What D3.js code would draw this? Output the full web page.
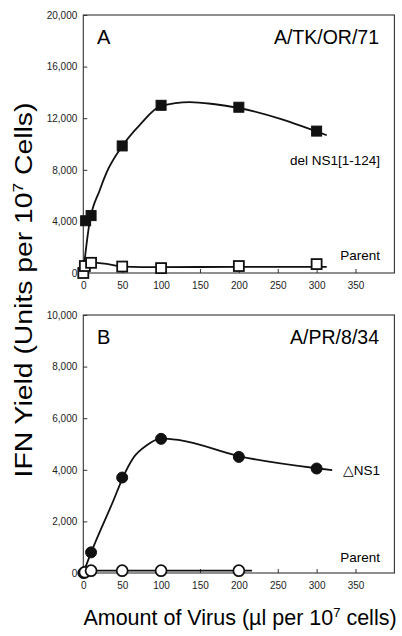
<!DOCTYPE html>
<html>
<head>
<meta charset="utf-8">
<script src="https://cdn.jsdelivr.net/npm/d3@7"></script>
<style>
  body { margin: 0; background: #fff; }
  svg { display: block; font-family: "Liberation Sans", Arial, sans-serif; }
</style>
</head>
<body>
<script>
// values
const xTicks = [0, 50, 100, 150, 200, 250, 300, 350]
const yTicksA = [0, 4000, 8000, 12000, 16000, 20000]
const yTicksB = [0, 2000, 4000, 6000, 8000, 10000]

// panel A, A/TK/OR/71
const delNS1X = [3, 10, 50, 100, 200, 300]
const delNS1Y = [4050, 4450, 9850, 13000, 12850, 11000]
const delNS1FitX = [0, 8, 21, 30, 50, 73, 100, 137, 167, 200, 313]
const delNS1FitY = [100, 3900, 6400, 7800, 9840, 11510, 12950, 13250, 13100, 12790, 10680]
const parentAX = [0, 2, 10, 50, 100, 200, 300]
const parentAY = [0, 540, 790, 500, 380, 540, 690]
const parentAFitX = [0, 2, 10, 30, 50, 100, 200, 313]
const parentAFitY = [0, 450, 800, 700, 500, 450, 480, 480]

// panel B, A/PR/8/34
const dNS1X = [0, 10, 50, 100, 200, 300]
const dNS1Y = [0, 800, 3700, 5200, 4500, 4050]
const dNS1FitX = [0, 10, 39, 51, 64, 82, 100, 124, 200, 300, 320]
const dNS1FitY = [0, 790, 2830, 3710, 4450, 4960, 5220, 5150, 4530, 4060, 3990]
const parentBX = [2, 10, 50, 100, 200]
const parentBY = [30, 90, 90, 90, 90]
const parentBFitX = [0, 10, 50, 100, 200, 217]
const parentBFitY = [30, 90, 90, 90, 90, 90]

const width = 402, height = 636
const svg = d3.select("body").append("svg")
  .attr("width", width).attr("height", height)

const x = d3.scaleLinear().domain([0, 400]).range([83.3, 394.4])
const zip = (xs, ys) => xs.map((v, i) => [v, ys[i]])

function panel(cfg) {
  const y = d3.scaleLinear().domain(cfg.yDomain).range(cfg.yRange)
  const g = svg.append("g")

  // frame
  g.append("rect")
    .attr("x", x.range()[0]).attr("y", cfg.yRange[1])
    .attr("width", x.range()[1] - x.range()[0])
    .attr("height", cfg.yRange[0] - cfg.yRange[1])
    .attr("fill", "none").attr("stroke", "#333").attr("stroke-width", 1.1)

  const yAxis = g.append("g")
    .attr("transform", `translate(${x.range()[0]},0)`)
    .call(d3.axisLeft(y).tickValues(cfg.yTicks).tickSize(-4).tickPadding(6)
      .tickFormat(d3.format(",")))
  const xAxis = g.append("g")
    .attr("transform", `translate(0,${cfg.yRange[0]})`)
    .call(d3.axisBottom(x).tickValues(xTicks).tickSize(-4).tickPadding(9))
  for (const a of [yAxis, xAxis]) {
    a.select(".domain").remove()
    a.selectAll("line").attr("stroke", "#333")
    a.selectAll("text").attr("fill", "#222").style("font-size", "10px")
      .attr("font-family", null)
  }

  const line = d3.line().x(d => x(d[0])).y(d => y(d[1])).curve(d3.curveMonotoneX)
  for (const f of cfg.fits) {
    g.append("path").datum(f)
      .attr("d", line).attr("fill", "none")
      .attr("stroke", "#111").attr("stroke-width", 1.8)
  }

  for (const s of cfg.series) {
    const m = g.append("g").selectAll(s.shape).data(s.pts).join(s.shape)
    if (s.shape === "rect") {
      m.attr("x", d => x(d[0]) - 5).attr("y", d => y(d[1]) - 5)
        .attr("width", 10).attr("height", 10)
    } else {
      m.attr("cx", d => x(d[0])).attr("cy", d => y(d[1])).attr("r", 5.5)
    }
    m.attr("fill", s.filled ? "#111" : "#fff")
      .attr("stroke", "#111").attr("stroke-width", s.filled ? 1 : 1.8)
  }

  g.append("text").attr("x", 97).attr("y", cfg.yRange[1] + 29)
    .style("font-size", "20px").text(cfg.letter)
  g.append("text").attr("x", 379).attr("y", cfg.yRange[1] + 29)
    .attr("text-anchor", "end").style("font-size", "19.5px").text(cfg.strain)
  for (const lb of cfg.labels) {
    g.append("text").attr("x", 380).attr("y", lb.y)
      .attr("text-anchor", "end").style("font-size", "13.5px").text(lb.text)
  }
}

panel({
  yDomain: [0, 20000], yRange: [273, 15], yTicks: yTicksA,
  letter: "A", strain: "A/TK/OR/71",
  fits: [zip(delNS1FitX, delNS1FitY), zip(parentAFitX, parentAFitY)],
  series: [
    {shape: "rect", filled: true, pts: zip(delNS1X, delNS1Y)},
    {shape: "rect", filled: false, pts: zip(parentAX, parentAY)}
  ],
  labels: [{text: "del NS1[1-124]", y: 165}, {text: "Parent", y: 260}]
})

panel({
  yDomain: [0, 10000], yRange: [573, 315], yTicks: yTicksB,
  letter: "B", strain: "A/PR/8/34",
  fits: [zip(dNS1FitX, dNS1FitY), zip(parentBFitX, parentBFitY)],
  series: [
    {shape: "circle", filled: true, pts: zip(dNS1X, dNS1Y)},
    {shape: "circle", filled: false, pts: zip(parentBX, parentBY)}
  ],
  labels: [{text: "\u25B3NS1", y: 475}, {text: "Parent", y: 562}]
})

// axis titles; the y title is stretched along its length like the scan
const yt = svg.append("text")
  .attr("text-anchor", "middle").style("font-size", "23px")
yt.append("tspan").text("IFN Yield (Units per 10")
yt.append("tspan").attr("dy", -9).style("font-size", "14px").text("7")
yt.append("tspan").attr("dy", 9).text(" Cells)")
const ytLen = yt.node().getBBox().width
yt.attr("transform", `translate(32,290) rotate(-90) scale(${375 / ytLen},1)`)

const xt = svg.append("text")
  .attr("x", 240).attr("y", 625)
  .attr("text-anchor", "middle").style("font-size", "21.5px")
xt.append("tspan").text("Amount of Virus (\u00B5l per 10")
xt.append("tspan").attr("dy", -8).style("font-size", "13px").text("7")
xt.append("tspan").attr("dy", 8).text(" cells)")
</script>
</body>
</html>
